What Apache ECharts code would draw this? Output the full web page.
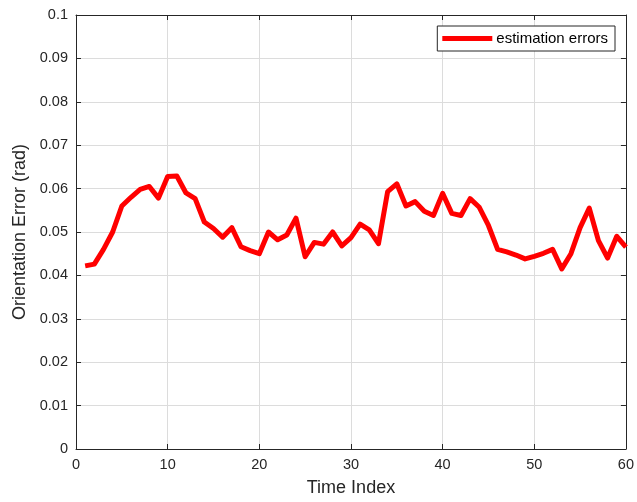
<!DOCTYPE html>
<html>
<head>
<meta charset="utf-8">
<script src="https://cdn.jsdelivr.net/npm/echarts@6/dist/echarts.min.js"></script>
<style>
  html, body { margin: 0; padding: 0; background: #fff; }
  #chart { width: 637px; height: 502px; }
</style>
</head>
<body>
<div id="chart"></div>
<script>
  const timeIndex = [];
  for (let i = 1; i <= 60; i++) timeIndex.push(i);
  const errors = [
    0.0422, 0.0426, 0.0460, 0.0500, 0.0560, 0.0580, 0.0598, 0.0605, 0.0578, 0.0628,
    0.0629, 0.0590, 0.0577, 0.0523, 0.0508, 0.0488, 0.0510, 0.0466, 0.0457, 0.0450,
    0.0500, 0.0482, 0.0493, 0.0532, 0.0443, 0.0476, 0.0472, 0.0500, 0.0468, 0.0487,
    0.0518, 0.0505, 0.0473, 0.0593, 0.0611, 0.0560, 0.0570, 0.0548, 0.0538, 0.0589,
    0.0543, 0.0538, 0.0577, 0.0557, 0.0515, 0.0460, 0.0454, 0.0447, 0.0438, 0.0444,
    0.0451, 0.0460, 0.0415, 0.0450, 0.0510, 0.0555, 0.0480, 0.0440, 0.0490, 0.0465
  ];
  const xTicks = [0, 10, 20, 30, 40, 50, 60];
  const yTicks = [0, 0.01, 0.02, 0.03, 0.04, 0.05, 0.06, 0.07, 0.08, 0.09, 0.1];

  const font = 'Liberation Sans, Arial, sans-serif';
  const chart = echarts.init(document.getElementById('chart'));
  const data = timeIndex.map((t, i) => [t, errors[i]]);

  chart.setOption({
    animation: false,
    grid: { left: 76, right: 9, top: 15, bottom: 53, show: false },
    legend: {
      data: ['estimation errors'],
      right: 22, top: 26,
      itemWidth: 50, itemHeight: 5,
      itemGap: 4,
      padding: [5, 7, 5, 5],
      borderColor: '#262626', borderWidth: 1,
      backgroundColor: '#fff',
      icon: 'rect',
      textStyle: { fontFamily: font, fontSize: 15, color: '#000', padding: [0, 0, 0, -1] }
    },
    xAxis: [{
      type: 'value', min: 0, max: 60, interval: 10,
      name: 'Time Index', nameLocation: 'middle', nameGap: 30,
      nameTextStyle: { fontFamily: font, fontSize: 18, color: '#262626' },
      axisLine: { show: true, lineStyle: { color: '#262626', width: 1 } },
      axisTick: { show: true, inside: true, length: 5, lineStyle: { color: '#262626' } },
      axisLabel: {
        fontFamily: font, fontSize: 14.5, color: '#262626', margin: 8,
        customValues: xTicks
      },
      splitLine: { show: true, lineStyle: { color: '#dcdcdc', width: 1 } }
    }, {
      type: 'value', min: 0, max: 60, interval: 10, position: 'top',
      axisLine: { show: true, onZero: false, lineStyle: { color: '#262626', width: 1 } },
      axisTick: { show: true, inside: true, length: 5, lineStyle: { color: '#262626' } },
      axisLabel: { show: false }, splitLine: { show: false }
    }],
    yAxis: [{
      type: 'value', min: 0, max: 0.1, interval: 0.01,
      name: 'Orientation Error (rad)', nameLocation: 'middle', nameGap: 47,
      nameTextStyle: { fontFamily: font, fontSize: 18, color: '#262626' },
      axisLine: { show: true, lineStyle: { color: '#262626', width: 1 } },
      axisTick: { show: true, inside: true, length: 5, lineStyle: { color: '#262626' } },
      axisLabel: {
        fontFamily: font, fontSize: 14.5, color: '#262626', margin: 8,
        formatter: (v) => String(Math.round(v * 100) / 100)
      },
      splitLine: { show: true, lineStyle: { color: '#dcdcdc', width: 1 } }
    }, {
      type: 'value', min: 0, max: 0.1, interval: 0.01, position: 'right',
      axisLine: { show: true, onZero: false, lineStyle: { color: '#262626', width: 1 } },
      axisTick: { show: true, inside: true, length: 5, lineStyle: { color: '#262626' } },
      axisLabel: { show: false }, splitLine: { show: false }
    }],
    series: [{
      name: 'estimation errors',
      type: 'line',
      data: data,
      showSymbol: false,
      symbol: 'none',
      color: '#ff0000',
      lineStyle: { color: '#ff0000', width: 5, join: 'round' },
      z: 5
    }]
  });
</script>
</body>
</html>
